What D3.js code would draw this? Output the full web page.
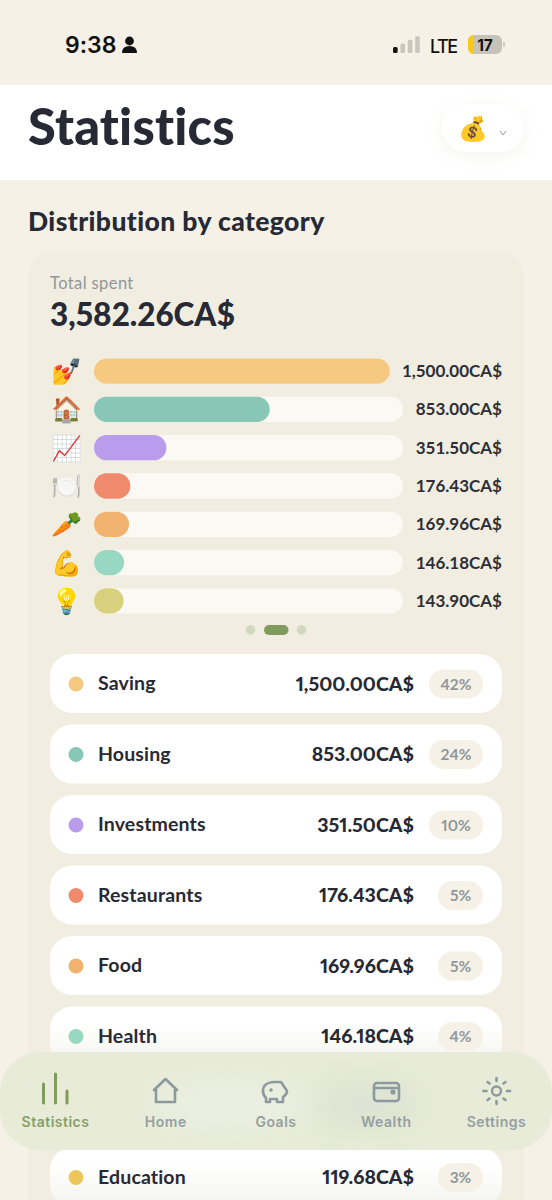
<!DOCTYPE html>
<html>
<head>
<meta charset="utf-8">
<title>Statistics</title>
<script src="https://cdn.jsdelivr.net/npm/d3@7"></script>
<style>
  html, body { margin: 0; padding: 0; background: #f5f1e6; }
  svg { display: block; }
  text { font-family: Lato, "Noto Sans", sans-serif; font-variant-ligatures: none; font-variant-numeric: proportional-nums; }
  .sys { font-family: Inter, sans-serif; }
  .tab { font-variant-numeric: tabular-nums; }
</style>
</head>
<body>
<div id="chart"></div>
<script>
// bar rows
var barEmojis = ["💅", "🏠", "📈", "🍽️", "🥕", "💪", "💡"];
var barValues = [1500.00, 853.00, 351.50, 176.43, 169.96, 146.18, 143.90];
var barColors = ["#f5c97f", "#88c6b6", "#b99ceb", "#ef8a6d", "#f2b26f", "#98d8c2", "#d8d07c"];

// list rows, the 7th sits behind the nav bar so it only gets its card
var listNames = ["Saving", "Housing", "Investments", "Restaurants", "Food", "Health", "", "Education"];
var listValues = [1500.00, 853.00, 351.50, 176.43, 169.96, 146.18, 143.90, 119.68];
var listPercents = [42, 24, 10, 5, 5, 4, 4, 3];
var listColors = ["#f5c97f", "#88c6b6", "#b99ceb", "#ef8a6d", "#f2b26f", "#98d8c2", "#d8d07c", "#ecc65a"];

var navLabels = ["Statistics", "Home", "Goals", "Wealth", "Settings"];

var dark = "#272a35";
var grey = "#8f979b";
var fmt = d3.format(",.2f");

var svg = d3.select("#chart").append("svg").attr("width", 552).attr("height", 1200);
var defs = svg.append("defs");

defs.append("filter").attr("id", "blur").attr("x", "-50%").attr("y", "-50%").attr("width", "200%").attr("height", "200%")
  .append("feGaussianBlur").attr("stdDeviation", 16);

var fade = defs.append("linearGradient").attr("id", "fade").attr("x1", 0).attr("x2", 0).attr("y1", 0).attr("y2", 1);
fade.append("stop").attr("offset", "30%").attr("stop-color", "#ffffff");
fade.append("stop").attr("offset", "100%").attr("stop-color", "#f3f3ee");

svg.append("rect").attr("width", 552).attr("height", 1200).attr("fill", "#f5f1e6");

// status bar
svg.append("rect").attr("y", 85).attr("width", 552).attr("height", 95).attr("fill", "#ffffff");
svg.append("text").attr("class", "sys").attr("x", 65).attr("y", 53).attr("font-size", 23).attr("font-weight", 600).attr("fill", "#111").text("9:38");
svg.append("circle").attr("cx", 129.5).attr("cy", 41).attr("r", 4.4).attr("fill", "#111");
svg.append("path").attr("d", "M122 53 q0 -7 7.500 -7 q7.500 0 7.500 7 z").attr("fill", "#111");

[0, 1, 2, 3].forEach(function(i) {
  var h = 6 + i * 3.6;
  svg.append("rect").attr("x", 393 + i * 7.4).attr("y", 53 - h).attr("width", 4.6).attr("height", h).attr("rx", 1.5)
    .attr("fill", i === 0 ? "#111" : "#c9c6bd");
});
svg.append("text").attr("class", "sys").attr("x", 430).attr("y", 52.5).attr("font-size", 18).attr("font-weight", 500).attr("fill", "#111").attr("textLength", 28).text("LTE");
svg.append("rect").attr("x", 468).attr("y", 35).attr("width", 34).attr("height", 19).attr("rx", 6).attr("fill", "#c6c3bb");
svg.append("path").attr("d", "M474 35 a6 6 0 0 0 -6 6 v7 a6 6 0 0 0 6 6 z").attr("fill", "#f7c919");
svg.append("path").attr("d", "M504 42 v5").attr("stroke", "#c6c3bb").attr("stroke-width", 1.5);
svg.append("text").attr("class", "sys").attr("x", 485).attr("y", 50.5).attr("text-anchor", "middle").attr("font-size", 15.5).attr("font-weight", 700).attr("fill", "#111").text("17");

// header
svg.append("text").attr("x", 28).attr("y", 145).attr("font-size", 50.5).attr("font-weight", 900).attr("letter-spacing", 0.2).attr("fill", dark).text("Statistics");

svg.append("rect").attr("x", 442).attr("y", 104).attr("width", 82).attr("height", 48).attr("rx", 24).attr("fill", "#ffffff")
  .style("filter", "drop-shadow(0 4px 8px rgba(120,110,80,0.08))");
svg.append("text").attr("x", 473).attr("y", 137).attr("text-anchor", "middle").attr("font-size", 24).text("💰");
svg.append("path").attr("d", "M500 131 l3 4 l3 -4").attr("fill", "none").attr("stroke", "#9a9a9a").attr("stroke-width", 1);

svg.append("text").attr("x", 28).attr("y", 231).attr("font-size", 26.5).attr("font-weight", 900).attr("letter-spacing", 0.4).attr("fill", dark).text("Distribution by category");

// card
svg.append("rect").attr("x", 28).attr("y", 251).attr("width", 496).attr("height", 1000).attr("rx", 26).attr("fill", "#f1ede0");
svg.append("text").attr("x", 50).attr("y", 289).attr("font-size", 16.5).attr("letter-spacing", 0.4).attr("fill", grey).text("Total spent");
svg.append("text").attr("x", 50).attr("y", 326).attr("font-size", 31.5).attr("font-weight", 900).attr("fill", dark).text("3,582.26CA$");

// bars
var x = d3.scaleLinear().domain([0, 1500]).range([94, 403]);
var y = d3.scaleBand().domain(d3.range(barValues.length)).range([352, 620]).paddingInner(0.34).paddingOuter(0.17);

var bars = svg.append("g").selectAll("g").data(barValues).enter().append("g")
  .attr("transform", function(d, i) { return "translate(0," + y(i) + ")"; });

var barLabels = bars.append("text")
  .attr("class", "tab")
  .attr("x", 502).attr("y", y.bandwidth() / 2 + 6)
  .attr("text-anchor", "end").attr("font-size", 17).attr("font-weight", 700).attr("fill", "#2e2f36")
  .text(function(d) { return fmt(d) + "CA$"; });

bars.each(function(d, i) {
  var labelLeft = 502 - barLabels.nodes()[i].getComputedTextLength();
  var trackEnd = Math.min(403, labelLeft - 12);
  var g = d3.select(this);
  g.append("rect").attr("x", 94).attr("width", trackEnd - 94).attr("height", y.bandwidth())
    .attr("rx", y.bandwidth() / 2).attr("fill", "#fbf9f4");
  g.append("rect").attr("x", 94).attr("width", Math.min(x(d), trackEnd) - 94).attr("height", y.bandwidth())
    .attr("rx", y.bandwidth() / 2).attr("fill", barColors[i]);
  g.append("text").attr("x", 66).attr("y", y.bandwidth() / 2 + 9).attr("text-anchor", "middle").attr("font-size", 25).text(barEmojis[i]);
});

// pager
svg.append("circle").attr("cx", 250.5).attr("cy", 630).attr("r", 4.8).attr("fill", "#d3d9c0");
svg.append("rect").attr("x", 264).attr("y", 625).attr("width", 24.5).attr("height", 10).attr("rx", 5).attr("fill", "#7f9c5c");
svg.append("circle").attr("cx", 301.5).attr("cy", 630).attr("r", 4.8).attr("fill", "#d3d9c0");

// list
var rowY = d3.scaleLinear().domain([0, 1]).range([654, 724.5]);
var rows = svg.append("g").selectAll("g").data(listValues).enter().append("g")
  .attr("transform", function(d, i) { return "translate(0," + rowY(i) + ")"; });

rows.append("rect").attr("x", 50).attr("width", 452).attr("height", 59).attr("rx", 22)
  .attr("fill", function(d, i) { return i >= 5 ? "url(#fade)" : "#ffffff"; });

rows.each(function(d, i) {
  if (!listNames[i]) return;
  var g = d3.select(this);
  var w = listPercents[i] >= 10 ? 54 : 45;
  g.append("circle").attr("cx", 76).attr("cy", 30).attr("r", 7.5).attr("fill", listColors[i]);
  g.append("text").attr("x", 98).attr("y", 36).attr("font-size", 19.5).attr("font-weight", 700).attr("letter-spacing", 0.15).attr("fill", dark)
    .text(listNames[i]);
  g.append("text").attr("x", 414).attr("y", 36.5).attr("text-anchor", "end").attr("font-size", 19.5).attr("font-weight", 900).attr("fill", dark)
    .text(fmt(d) + "CA$");
  g.append("rect").attr("x", 483 - w).attr("y", 15.5).attr("width", w).attr("height", 29).attr("rx", 14.5).attr("fill", "#f5f1e6");
  g.append("text").attr("x", 483 - w / 2).attr("y", 35.5).attr("text-anchor", "middle").attr("font-size", 15.5).attr("font-weight", 700).attr("fill", grey)
    .text(listPercents[i] + "%");
});

// nav bar
var nav = svg.append("g");
nav.append("rect").attr("x", 0).attr("y", 1052).attr("width", 552).attr("height", 98).attr("rx", 40).attr("fill", "#e7ebd7");
nav.append("ellipse").attr("cx", 365).attr("cy", 1105).attr("rx", 55).attr("ry", 24).attr("fill", "#dde3d2").attr("filter", "url(#blur)");
nav.append("ellipse").attr("cx", 230).attr("cy", 1105).attr("rx", 80).attr("ry", 22).attr("fill", "#ebf0e2").attr("filter", "url(#blur)");

var navX = d3.scalePoint().domain(navLabels).range([55.5, 496.5]);
nav.selectAll("text").data(navLabels).enter().append("text")
  .attr("class", "sys")
  .attr("x", function(d) { return navX(d); }).attr("y", 1127)
  .attr("text-anchor", "middle").attr("font-size", 14).attr("font-weight", 600)
  .attr("letter-spacing", 0.5)
  .attr("fill", function(d, i) { return i === 0 ? "#85a069" : "#949fa3"; })
  .text(function(d) { return d; });

var iconPaths = [
  "M43.500 1084 V1103 M55.500 1074 V1103 M67 1091 V1103",
  "M154 1090 L165.500 1079 L177 1090 M156 1089 V1102 H175 V1089",
  "M263 1091 C263 1085 268 1082 274 1082 H281 L287 1091 C287 1095 284 1096 283 1097 V1102 H277 V1099 H270 V1102 H266 V1098 C264 1096 263 1094 263 1091 Z",
  "M374 1086 a3 3 0 0 1 3 -3 h19 a3 3 0 0 1 3 3 v12 a3 3 0 0 1 -3 3 h-19 a3 3 0 0 1 -3 -3 z M374 1088 h25",
  "M496.500 1078 v3 M496.500 1101 v3 M483.500 1091 h3 M507 1091 h3 M487.500 1082 l2 1.500 M503.500 1098.500 l2 1.500 M505.500 1082 l-2 1.500 M489.500 1098.500 l-2 1.500"
];
nav.selectAll("path").data(iconPaths).enter().append("path")
  .attr("d", function(d) { return d; })
  .attr("fill", "none").attr("stroke-width", function(d, i) { return i === 0 ? 3 : 2.6; })
  .attr("stroke-linecap", "round").attr("stroke-linejoin", "round")
  .attr("stroke", function(d, i) { return i === 0 ? "#7f9c5c" : "#8c999e"; });
nav.append("circle").attr("cx", 496.5).attr("cy", 1091).attr("r", 4.5).attr("fill", "none").attr("stroke", "#8c999e").attr("stroke-width", 2.4);
nav.append("circle").attr("cx", 271).attr("cy", 1090).attr("r", 1.8).attr("fill", "#8c999e");
nav.append("circle").attr("cx", 393).attr("cy", 1092).attr("r", 2.6).attr("fill", "#8c999e");
</script>
</body>
</html>
